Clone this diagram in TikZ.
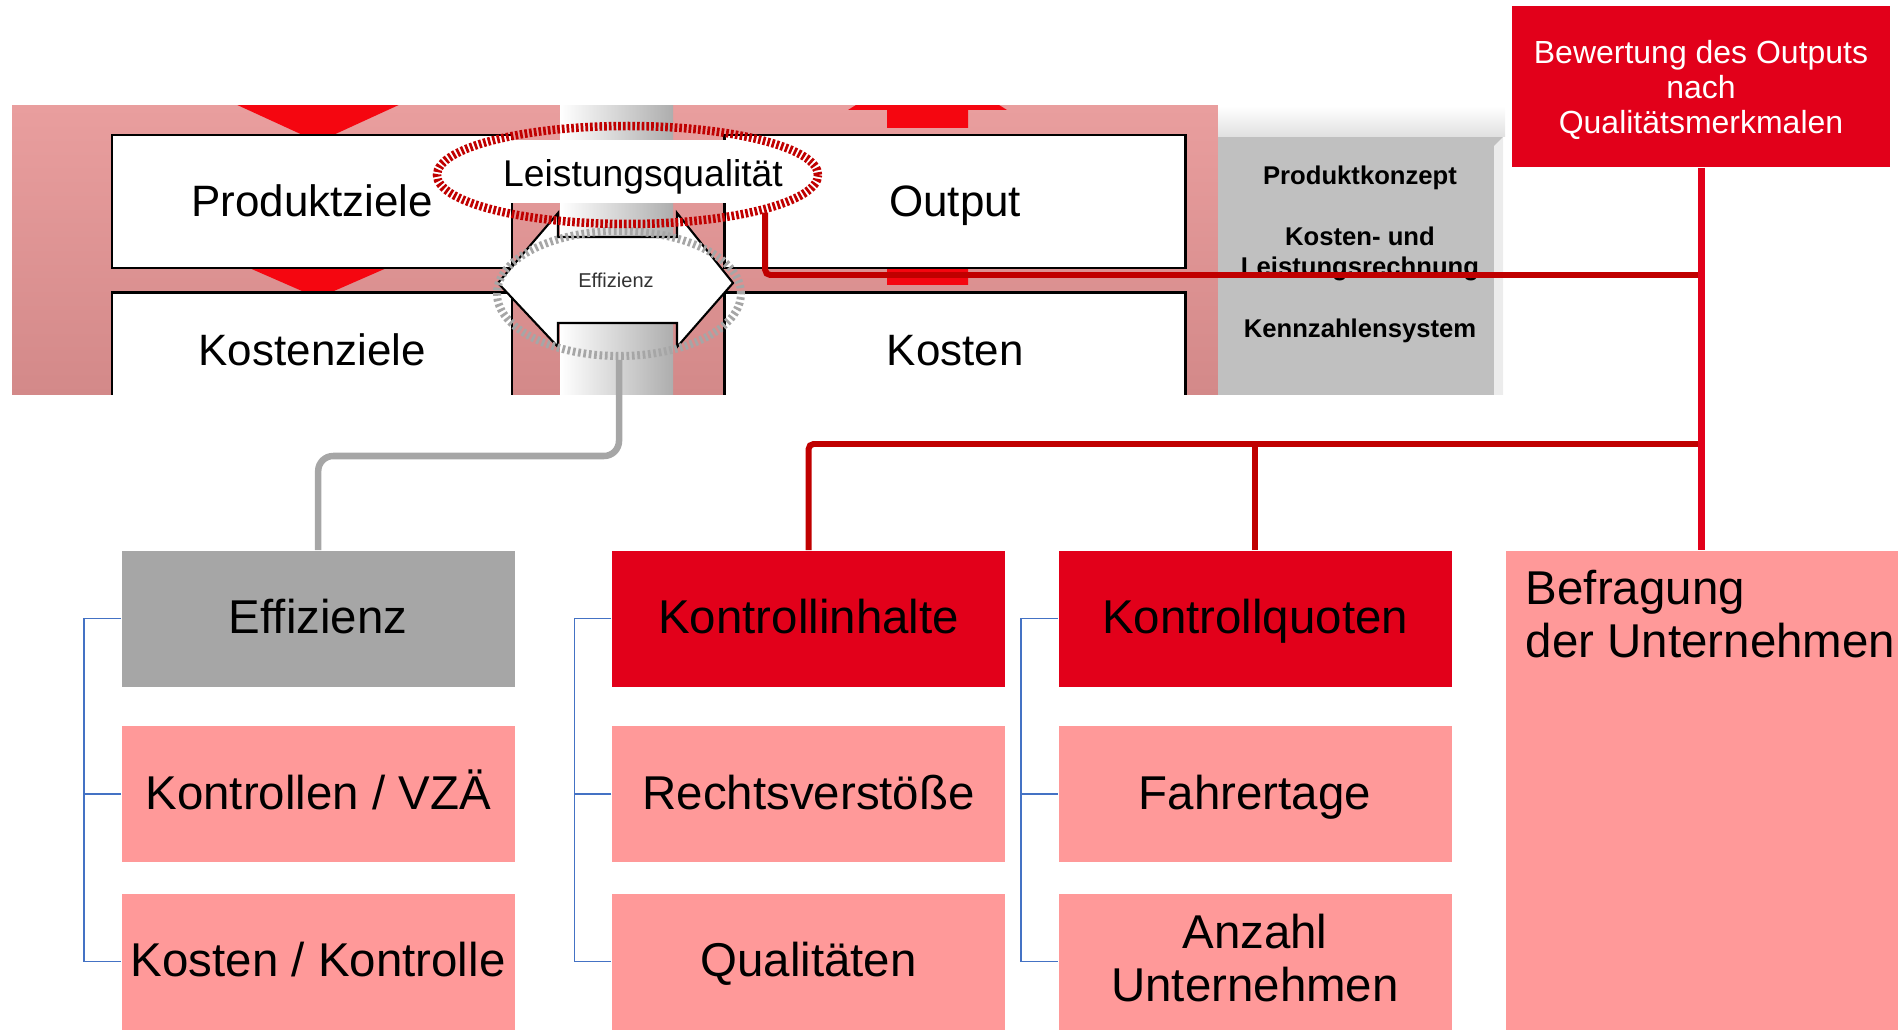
\documentclass[tikz,border=0pt]{standalone}
\usepackage{fontspec}
\setmainfont{Liberation Sans}
\usetikzlibrary{positioning,calc,shapes.geometric}

\definecolor{kred}{RGB}{226,0,26}
\definecolor{dred}{RGB}{192,0,0}
\definecolor{pfeilrot}{RGB}{245,6,16}
\definecolor{kpink}{RGB}{255,153,153}
\definecolor{kgray}{RGB}{166,166,166}
\definecolor{boxgray}{RGB}{192,192,192}
\definecolor{kblue}{RGB}{68,114,196}
\definecolor{panelhi}{RGB}{233,158,158}
\definecolor{panello}{RGB}{211,137,137}

\tikzset{
  zielbox/.style={draw=black, line width=0.7pt, fill=white, inner sep=0pt,
    minimum height=13.3mm, text height=11.1pt, text depth=2.6pt,
    font=\fontsize{12.5}{14}\selectfont},
  kasten/.style={inner sep=0pt, minimum width=39.3mm, minimum height=13.6mm,
    align=center, font=\fontsize{13.5}{15.1}\selectfont},
  einzeilig/.style={text height=11.5pt, text depth=2.8pt},
  kopf/.style={kasten, einzeilig, fill=kred},
  unter/.style={kasten, einzeilig, fill=kpink},
  gtext/.style={font=\fontsize{7.3}{8.5}\selectfont\bfseries, align=center, inner sep=0pt},
  klammer/.style={kblue, line width=0.45pt},
  rotlinie/.style={dred, line width=1.7pt, rounded corners=0.5mm},
}

\begin{document}
\begin{tikzpicture}[x=0.1mm, y=-0.1mm]
\useasboundingbox (0,0) rectangle (1901,1030);

% oberer Ausschnitt
\begin{scope}
\clip (12,106) rectangle (1505,395);
\shade[top color=panelhi, bottom color=panello] (12,106) rectangle (1218,395);
\shade[left color=white, middle color=white, right color=black!32] (560,106) rectangle (673,395);
\shade[top color=white, bottom color=black!12] (1218,106) rectangle (1505,137);
\fill[boxgray] (1218,137) rectangle (1503,395);
\fill[white!70!boxgray] (1494,146) -- (1503,137) -- (1503,395) -- (1494,395) -- cycle;
% Pfeile
\fill[pfeilrot] (222,98) -- (414,98) -- (318,142) -- cycle;
\fill[pfeilrot] (231,260) -- (405,260) -- (318,298) -- cycle;
\fill[pfeilrot] (887,128) -- (968,128) -- (968,110) -- (1007,110) -- (927.5,60) -- (848,110) -- (887,110) -- cycle;
\fill[pfeilrot] (887,285) -- (968,285) -- (968,267) -- (1007,267) -- (927.5,217) -- (848,267) -- (887,267) -- cycle;
% Kaesten
\node[zielbox, minimum width=40mm, anchor=north west] (pz) at (111,134) {Produktziele};
\node[zielbox, minimum width=40mm, minimum height=11.6mm, below=2.2mm of pz] (kz) {Kostenziele};
\node[zielbox, minimum width=46.1mm, right=21mm of pz] (out) {Output};
\node[zielbox, minimum width=46.1mm, minimum height=11.6mm, below=2.2mm of out] (ko) {Kosten};
\end{scope}

\node[gtext] (pk) at (1360,178) {Produktkonzept};
\node[gtext] (klr) at (1360,254) {Kosten- und\\Leistungsrechnung};
\node[gtext] (kzs) at (1360,331) {Kennzahlensystem};

% Effizienz und Leistungsqualitaet
\fill[white] (503,140) rectangle (727,203);
\draw[line width=0.6pt, fill=white] (498,283) -- (558,213) -- (558,237) -- (677,237) -- (677,213)
  -- (733,283) -- (677,347) -- (677,323) -- (558,323) -- (558,347) -- cycle;
\node[ellipse, draw=kgray, line width=0.8mm, dash pattern=on 0.27mm off 0.27mm,
  minimum width=24.4mm, minimum height=12.5mm, inner sep=0pt] (effring) at (619,293.5) {};
\node[font=\fontsize{5.7}{6}\selectfont, text=black!80, inner sep=0pt] (efftxt) at (616,280) {Effizienz};
\node[ellipse, draw=dred, line width=0.85mm, dash pattern=on 0.27mm off 0.2mm,
  minimum width=38.1mm, minimum height=9.8mm, inner sep=0pt] (lq) at (627.5,175) {};
\node[font=\fontsize{10.6}{12}\selectfont, inner sep=0pt] (lqtxt) at (643,177) {Leistungsqualität};

% Bewertung
\node[fill=kred, text=white, align=center, inner sep=0pt, minimum width=37.8mm, minimum height=16.1mm,
  font=\fontsize{9.1}{10.05}\selectfont] (bew) at (1701,86.5)
  {\rule{0pt}{8.6pt}Bewertung des Outputs\\nach\\Qualitätsmerkmalen};

% untere Kaesten
\node[kopf, fill=kgray, anchor=north west] (eff) at (121,550) {Effizienz};
\node[unter, below=3.8mm of eff] (kv) {Kontrollen / VZÄ};
\node[unter, below=3mm of kv] (kk) {Kosten / Kontrolle};
\node[kopf, right=9.6mm of eff] (ki) {Kontrollinhalte};
\node[unter, below=3.8mm of ki] (rv) {Rechtsverstöße};
\node[unter, below=3mm of rv] (ql) {Qualitäten};
\node[kopf, right=5.2mm of ki] (kq) {Kontrollquoten};
\node[unter, below=3.8mm of kq] (ft) {Fahrertage};
\node[kasten, fill=kpink, below=3mm of ft] (au) {Anzahl\\Unternehmen\rule[-2pt]{0pt}{0pt}};
\node[kasten, fill=kpink, minimum width=39.2mm, minimum height=48mm, right=5.3mm of kq.north east, anchor=north west] (bef) {};
\node[anchor=north west, align=left, inner sep=0pt, font=\fontsize{13.5}{15.1}\selectfont] (beftxt) at ($(bef.north west)+(20,19)$) {Befragung\\der Unternehmen};

% Klammern
\foreach \oben/\mitte/\unten in {eff/kv/kk, ki/rv/ql, kq/ft/au}{
  \draw[klammer] (\oben.west) -- ++(-37,0) |- (\unten.west);
  \draw[klammer] (\mitte.west) -- ++(-37,0);
}

% Verbindungen
\coordinate (qy) at (0,275);
\coordinate (ky) at (0,444);
\coordinate (gy) at (0,456);
\draw[rotlinie] (lq.south east) |- (qy -| bew.south);
\draw[rotlinie] (ki.north) |- (ky -| bew.south);
\draw[rotlinie] (kq.north) -- (kq.north |- ky);
\draw[kred, line width=2pt] (bew.south) -- (bew.south |- bef.north);
\draw[kgray, line width=1.85pt, rounded corners=1.5mm] (effring.south) |- (gy -| eff.north) -- (eff.north);

\end{tikzpicture}
\end{document}
